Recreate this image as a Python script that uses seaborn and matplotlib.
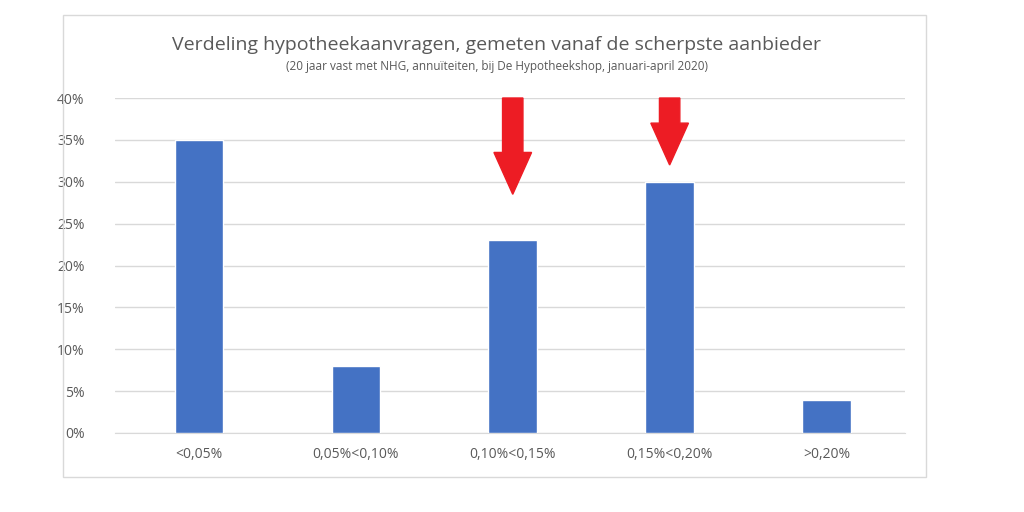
import matplotlib
matplotlib.use("Agg")
import matplotlib.pyplot as plt
from matplotlib.patches import Rectangle, FancyArrow
from matplotlib.ticker import PercentFormatter
import seaborn as sns

# data
categories = ["<0,05%", "0,05%<0,10%", "0,10%<0,15%", "0,15%<0,20%", ">0,20%"]
shares = [0.35, 0.08, 0.23, 0.30, 0.04]
arrow_bars = [2, 3]
arrow_tips = [0.285, 0.32]

sns.set_style("white")
plt.rcParams['font.family'] = 'Open Sans'
grey = '#595959'

fig = plt.figure(figsize=(10.24, 5.12), dpi=100)
fig.patches.append(Rectangle((63/1024, 1-477/512), 863/1024, 462/512,
                             transform=fig.transFigure, fill=False,
                             edgecolor='#d9d9d9', linewidth=1))
ax = fig.add_axes([115/1024, 1-433/512, 790/1024, 335/512])
sns.barplot(x=categories, y=shares, color='#4472c4', width=0.31,
            saturation=1, ax=ax, zorder=3)
ax.set_ylim(0, 0.4)
ax.set_xlim(-0.535, 4.5)
ax.yaxis.set_major_formatter(PercentFormatter(1, decimals=0))
ax.set_yticks([i*0.05 for i in range(9)])
ax.grid(axis='y', color='#d9d9d9', linewidth=1, zorder=0)
for s in ['top', 'right', 'left']:
    ax.spines[s].set_visible(False)
ax.spines['bottom'].set_color('#d9d9d9')
ax.tick_params(axis='both', length=0, colors=grey, labelsize=10, pad=10)
ax.tick_params(axis='y', pad=22)

for i, tip in zip(arrow_bars, arrow_tips):
    ax.add_patch(FancyArrow(i, 0.40, 0, tip-0.40, width=0.13,
                            head_width=0.24, head_length=0.05,
                            length_includes_head=True, color='#ed1c24',
                            zorder=5, clip_on=False))

fig.text(0.485, 0.912, "Verdeling hypotheekaanvragen, gemeten vanaf de scherpste aanbieder",
         ha='center', va='center', fontsize=14, color=grey)
fig.text(0.485, 0.871, "(20 jaar vast met NHG, annuïteiten, bij De Hypotheekshop, januari-april 2020)",
         ha='center', va='center', fontsize=8.5, color=grey)

fig.savefig('out.png', dpi=100)
plt.close()
